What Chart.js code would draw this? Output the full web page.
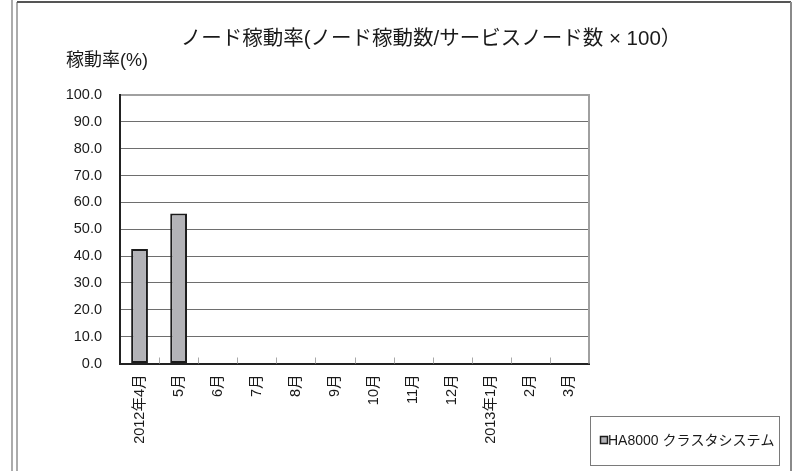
<!DOCTYPE html>
<html>
<head>
<meta charset="utf-8">
<script src="https://cdn.jsdelivr.net/npm/chart.js@4/dist/chart.umd.min.js"></script>
<style>
html,body{margin:0;padding:0;background:#fff;}
canvas{display:block;}
</style>
</head>
<body>
<canvas id="c" width="796" height="471"></canvas>
<script>
const categories = ['2012年4月','5月','6月','7月','8月','9月','10月','11月','12月','2013年1月','2月','3月'];
const seriesName = 'HA8000 クラスタシステム';
const values = [42.6, 55.9, null, null, null, null, null, null, null, null, null, null];
const yTicks = [0,10,20,30,40,50,60,70,80,90,100];
const titleText = 'ノード稼動率(ノード稼動数/サービスノード数 × 100）';
const yTitleText = '稼動率(%)';

const FONT = '"Liberation Sans", "Noto Sans CJK JP", Arial, sans-serif';
const BAR_FILL = '#b3b3b7';
const BAR_EDGE = '#1c1c1c';
const TEXT = '#1a1a1a';

const decor = {
  id: 'decor',
  beforeDraw(chart) {
    const ctx = chart.ctx;
    ctx.save();
    ctx.strokeStyle = '#ababab';
    ctx.lineWidth = 2;
    ctx.beginPath(); ctx.moveTo(12, 0); ctx.lineTo(12, 471); ctx.stroke();
    ctx.beginPath(); ctx.moveTo(17, 2); ctx.lineTo(17, 471); ctx.stroke();
    ctx.strokeStyle = '#555';
    ctx.beginPath(); ctx.moveTo(17, 2); ctx.lineTo(791, 2); ctx.stroke();
    ctx.strokeStyle = '#8a8a8a';
    ctx.beginPath(); ctx.moveTo(791, 2); ctx.lineTo(791, 471); ctx.stroke();
    ctx.restore();
  },
  afterDatasetsDraw(chart) {
    const ctx = chart.ctx;
    const a = chart.chartArea;
    const xs = chart.scales.x;
    ctx.save();
    ctx.strokeStyle = '#a0a0a0';
    ctx.lineWidth = 2;
    ctx.beginPath(); ctx.moveTo(a.right, a.top - 1); ctx.lineTo(a.right, a.bottom); ctx.stroke();
    ctx.strokeStyle = '#a8a8a8';
    ctx.lineWidth = 1;
    for (let i = 1; i < categories.length; i++) {
      const x = Math.round((xs.getPixelForTick(i - 1) + xs.getPixelForTick(i)) / 2) + 0.5;
      ctx.beginPath(); ctx.moveTo(x, a.bottom - 6); ctx.lineTo(x, a.bottom); ctx.stroke();
    }
    ctx.restore();
  },
  afterDraw(chart) {
    const ctx = chart.ctx;
    ctx.save();
    ctx.fillStyle = TEXT;
    ctx.textBaseline = 'middle';
    ctx.textAlign = 'center';
    ctx.font = '20.5px ' + FONT;
    ctx.fillText(titleText, 431, 39);
    ctx.font = '18px ' + FONT;
    ctx.fillText(yTitleText, 107, 61);
    ctx.strokeStyle = '#7a7a7a';
    ctx.lineWidth = 1;
    ctx.strokeRect(590.5, 416.5, 189, 49);
    const ds = chart.data.datasets[0];
    ctx.fillStyle = ds.backgroundColor;
    ctx.fillRect(600.5, 436.5, 7, 7);
    ctx.strokeStyle = ds.borderColor;
    ctx.lineWidth = 1.5;
    ctx.strokeRect(600.5, 436.5, 7, 7);
    ctx.fillStyle = TEXT;
    ctx.textAlign = 'left';
    ctx.font = '14px ' + FONT;
    ctx.fillText(ds.label, 608, 441);
    ctx.restore();
  }
};

new Chart(document.getElementById('c'), {
  type: 'bar',
  data: {
    labels: categories,
    datasets: [{
      label: seriesName,
      data: values,
      backgroundColor: BAR_FILL,
      borderColor: BAR_EDGE,
      borderWidth: 2,
      borderSkipped: false,
      categoryPercentage: 1,
      barPercentage: 0.43
    }]
  },
  options: {
    responsive: false,
    animation: false,
    layout: { padding: { left: 0, top: 95, right: 207, bottom: 0 } },
    plugins: {
      legend: { display: false },
      title: { display: false },
      tooltip: { enabled: false }
    },
    scales: {
      x: {
        grid: { display: false },
        border: { display: true, color: '#222', width: 2 },
        ticks: {
          autoSkip: false,
          minRotation: 90,
          maxRotation: 90,
          padding: 3,
          color: TEXT,
          font: { size: 14.5, family: FONT }
        },
        afterFit(scale) { scale.height = 107.5; }
      },
      y: {
        min: 0,
        max: 100,
        afterBuildTicks(scale) { scale.ticks = yTicks.map(v => ({ value: v })); },
        grid: {
          drawTicks: false,
          color(ctx) {
            const v = ctx.tick && ctx.tick.value;
            if (v === 0) return 'rgba(0,0,0,0)';
            if (v === 100) return '#a0a0a0';
            return '#6e6e6e';
          },
          lineWidth(ctx) {
            const v = ctx.tick && ctx.tick.value;
            return v === 100 ? 2 : 1;
          }
        },
        border: { display: true, color: '#222', width: 2 },
        ticks: {
          padding: 18,
          color: TEXT,
          font: { size: 14.5, family: FONT },
          callback(v) { return Number(v).toFixed(1); }
        },
        afterFit(scale) { scale.width = 120; }
      }
    }
  },
  plugins: [decor]
});
</script>
</body>
</html>
